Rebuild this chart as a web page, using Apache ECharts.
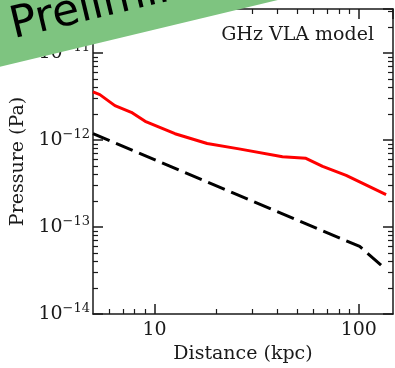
<!DOCTYPE html>
<html>
<head>
<meta charset="utf-8">
<script src="https://cdn.jsdelivr.net/npm/echarts@6/dist/echarts.min.js"></script>
<style>
  html, body { margin: 0; padding: 0; background: #fff; }
  #chart { width: 395px; height: 368px; }
</style>
</head>
<body>
<div id="chart"></div>
<script>
// Radial pressure profiles (log-log)
const distanceModel = [5, 5.4, 6.4, 7.7, 9.0, 12.6, 18.1, 25.9, 42.3, 55.1, 66.5, 86.7, 136];
const pressureModel = [3.57e-12, 3.32e-12, 2.48e-12, 2.08e-12, 1.64e-12, 1.18e-12, 9.1e-13, 7.9e-13, 6.4e-13, 6.15e-13, 4.97e-13, 3.92e-13, 2.35e-13];

const distanceRef = [5, 101, 136];
const pressureRef = [1.18e-12, 5.98e-14, 3.23e-14];

// Axis ranges and tick labels
const xRange = [5, 147];
const yRange = [1e-14, 3.2e-11];
const xTickValues = [10, 100];
const xTickLabels = ['10', '100'];
const yTickValues = [1e-14, 1e-13, 1e-12, 1e-11];
const yTickExponents = ['\u221214', '\u221213', '\u221212', '\u221211'];
const xMinorTicks = [6, 7, 8, 9, 20, 30, 40, 50, 60, 70, 80, 90];
const yMinorTicks = [];
[1e-14, 1e-13, 1e-12, 1e-11].forEach(function (d) {
  for (let k = 2; k <= 9; k++) yMinorTicks.push(k * d);
});

const titleText = 'GHz VLA model';
const bannerText = 'Preliminary';
const xName = 'Distance (kpc)';
const yName = 'Pressure (Pa)';

const SERIF = 'DejaVu Serif';
const INK = '#1a1a1a';

const lg = Math.log10;
const pairs = (xs, ys) => xs.map((x, i) => [x, ys[i]]);

function matchIndex(list, v) {
  for (let i = 0; i < list.length; i++) {
    if (Math.abs(lg(list[i]) - lg(v)) < 1e-6) return i;
  }
  return -1;
}

function majorAxis(pos, isX, withLabels) {
  const range = isX ? xRange : yRange;
  const ax = {
    type: 'log',
    logBase: 10,
    position: pos,
    min: range[0],
    max: range[1],
    splitLine: { show: false },
    axisLine: { show: true, onZero: false, lineStyle: { color: INK, width: 1.5 } },
    axisTick: { show: true, inside: true, length: 10, lineStyle: { color: INK, width: 1.5 } },
    axisLabel: { show: false },
    zlevel: 0
  };
  if (withLabels) {
    if (isX) {
      ax.axisLabel = {
        show: true, showMinLabel: false, showMaxLabel: false, margin: 7,
        color: INK, fontFamily: SERIF, fontSize: 19,
        formatter: function (v) {
          const i = matchIndex(xTickValues, v);
          return i < 0 ? '' : xTickLabels[i];
        }
      };
      ax.name = xName;
      ax.nameLocation = 'middle';
      ax.nameGap = 31;
      ax.nameTextStyle = { color: INK, fontFamily: SERIF, fontSize: 19 };
    } else {
      ax.axisLabel = {
        show: true, showMinLabel: true, showMaxLabel: false, margin: 3,
        color: INK, fontFamily: SERIF,
        formatter: function (v) {
          const i = matchIndex(yTickValues, v);
          return i < 0 ? '' : '{b|10}{s|' + yTickExponents[i] + '}';
        },
        rich: {
          b: { fontFamily: SERIF, fontSize: 19, lineHeight: 24, color: INK },
          s: { fontFamily: SERIF, fontSize: 13, lineHeight: 13, verticalAlign: 'top', color: INK }
        }
      };
      ax.name = yName;
      ax.nameLocation = 'middle';
      ax.nameGap = 60;
      ax.nameTextStyle = { color: INK, fontFamily: SERIF, fontSize: 19 };
    }
  }
  return ax;
}

function minorAxis(pos, isX) {
  const range = isX ? xRange : yRange;
  const ticks = isX ? xMinorTicks : yMinorTicks;
  return {
    type: 'value',
    position: pos,
    min: lg(range[0]),
    max: lg(range[1]),
    splitLine: { show: false },
    axisLine: { show: false },
    axisTick: {
      show: true, inside: true, length: 5,
      lineStyle: { color: INK, width: 1.2 },
      customValues: ticks.map(lg).filter(v => v > lg(range[0]) && v < lg(range[1]))
    },
    axisLabel: { show: false }
  };
}

const chart = echarts.init(document.getElementById('chart'), null, { renderer: 'canvas' });

chart.setOption({
  animation: false,
  backgroundColor: '#ffffff',
  grid: { left: 93, right: 2, top: 9, bottom: 54, containLabel: false, outerBoundsMode: 'none' },
  xAxis: [
    majorAxis('bottom', true, true),
    minorAxis('bottom', true),
    majorAxis('top', true, false),
    minorAxis('top', true)
  ],
  yAxis: [
    majorAxis('left', false, true),
    minorAxis('left', false),
    majorAxis('right', false, false),
    minorAxis('right', false)
  ],
  series: [
    {
      name: 'model',
      type: 'line',
      xAxisIndex: 0, yAxisIndex: 0,
      data: pairs(distanceModel, pressureModel),
      showSymbol: false, smooth: false,
      lineStyle: { color: '#ff0000', width: 3 },
      z: 3
    },
    {
      name: 'reference',
      type: 'line',
      xAxisIndex: 0, yAxisIndex: 0,
      data: pairs(distanceRef, pressureRef),
      showSymbol: false,
      lineStyle: { color: '#000000', width: 3, type: [18, 7] },
      z: 3
    }
  ],
  graphic: [
    {
      type: 'text',
      right: 21, top: 26,
      style: { text: titleText, font: '19px "DejaVu Serif"', fill: INK },
      z: 10
    },
    {
      type: 'group',
      x: 0, y: 66.7,
      rotation: 0.2356,
      z: 100,
      children: [
        {
          type: 'rect',
          shape: { x: -80, y: -160, width: 700, height: 160 },
          style: { fill: '#7ec480' },
          z: 100
        },
        {
          type: 'text',
          x: 20, y: -14,
          style: {
            text: bannerText, font: '44px "DejaVu Sans"', fill: '#000',
            textAlign: 'left', textVerticalAlign: 'bottom'
          },
          z: 101
        }
      ]
    }
  ]
});
</script>
</body>
</html>
